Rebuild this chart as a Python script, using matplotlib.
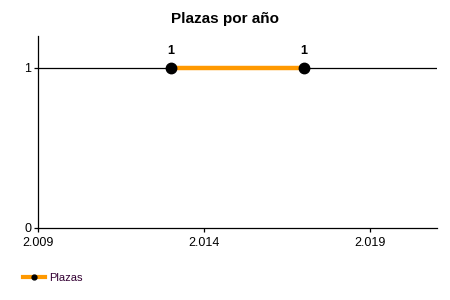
import matplotlib
matplotlib.use("Agg")
import matplotlib.pyplot as plt
from matplotlib.ticker import FuncFormatter
from matplotlib.lines import Line2D

years = [2013, 2017]
plazas = [1, 1]
xticks = [2009, 2014, 2019]
yticks = [0, 1]

plt.rcParams['font.family'] = ['Liberation Sans', 'DejaVu Sans']

fig = plt.figure(figsize=(4.5, 3), dpi=100)
ax = fig.add_axes([0.0838, 0.24, 0.971 - 0.0838, 0.88 - 0.24])

ax.axhline(1, color='black', lw=0.9, zorder=1)
ax.plot(years, plazas, color='#FF9900', lw=3.2, zorder=2, solid_capstyle='butt')
ax.plot(years, plazas, 'o', color='black', ms=7.5, zorder=3)
for x, y in zip(years, plazas):
    ax.annotate(str(y), (x, y), xytext=(0, 8), textcoords='offset points',
                ha='center', va='bottom', fontsize=9, fontweight='bold')

ax.set_xlim(2009, 2021)
ax.set_ylim(0, 1.2)
ax.set_xticks(xticks)
ax.set_yticks(yticks)
ax.xaxis.set_major_formatter(FuncFormatter(lambda v, p: f"{int(v):,}".replace(",", ".")))
ax.tick_params(axis='both', labelsize=9, length=3, width=0.9, color='black', pad=1.5)
ax.tick_params(axis='x', pad=3.5)
for s in ['top', 'right']:
    ax.spines[s].set_visible(False)
for s in ['left', 'bottom']:
    ax.spines[s].set_linewidth(0.9)
    ax.spines[s].set_color('black')

fig.text(0.5, 1 - 19 / 300, 'Plazas por año', ha='center', va='center',
         fontsize=11, fontweight='bold')

h = Line2D([], [], color='#FF9900', lw=3, marker='o', markersize=3.5,
           markerfacecolor='black', markeredgecolor='black')
fig.legend([h], ['Plazas'], loc='center left', bbox_to_anchor=(0.05, 1 - 278 / 300),
           frameon=False, fontsize=8, handlelength=2.0, handletextpad=0.4,
           borderpad=0, borderaxespad=0, labelcolor='#330033')

fig.savefig('out.png', dpi=100)
